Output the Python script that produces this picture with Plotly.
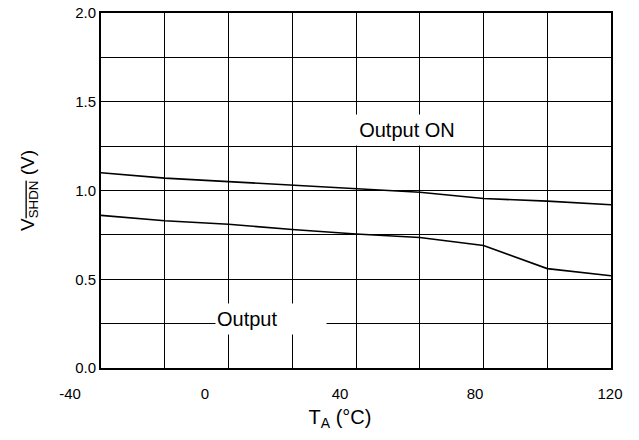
import plotly.graph_objects as go

# Ambient temperature grid (°C) at which the thresholds were measured
temp_c = [-40, -20, 0, 20, 40, 60, 80, 100, 120]

# Shutdown-pin threshold voltages (V)
v_on = [1.10, 1.07, 1.05, 1.03, 1.01, 0.99, 0.955, 0.94, 0.92]
v_off = [0.86, 0.83, 0.81, 0.78, 0.755, 0.735, 0.69, 0.56, 0.52]

# Temperature labels printed under the chart
temp_labels = [-40, 0, 40, 80, 120]
temp_text = ["-40", "0", "40", "80", "120"]
volt_ticks = [0.0, 0.5, 1.0, 1.5, 2.0]

FONT = "Arial, Liberation Sans, sans-serif"

fig = go.Figure()

for series in (v_on, v_off):
    fig.add_trace(go.Scatter(
        x=temp_c, y=series, mode="lines",
        line=dict(color="black", width=1.6),
        showlegend=False, hoverinfo="skip",
    ))

# Carrier trace for the labelled temperature scale (own hidden y axis)
fig.add_trace(go.Scatter(
    x=[temp_labels[0], temp_labels[-1]], y=[None, None],
    xaxis="x2", yaxis="y2", mode="lines", showlegend=False,
    hoverinfo="skip",
))

fig.update_layout(
    width=639, height=440,
    margin=dict(l=70, r=28, t=13, b=72, autoexpand=False),
    paper_bgcolor="white", plot_bgcolor="rgba(0,0,0,0)",
    font=dict(family=FONT, color="black", size=15),
    xaxis=dict(
        domain=[31 / 541, 1.0],
        range=[-40, 120], dtick=20, tick0=-40,
        showticklabels=False, ticks="",
        showgrid=True, gridcolor="black", gridwidth=1,
        showline=True, linecolor="black", linewidth=2, mirror=True,
        zeroline=False,
    ),
    xaxis2=dict(
        domain=[0.0, 540 / 541],
        anchor="y2",
        range=[-40, 120],
        tickvals=temp_labels, ticktext=temp_text,
        ticks="outside", ticklen=12, tickcolor="rgba(0,0,0,0)",
        showgrid=False, showline=False, zeroline=False,
        tickfont=dict(size=15),
        title=dict(text="T<sub>A</sub> (°C)", font=dict(size=20), standoff=8),
    ),
    yaxis2=dict(
        domain=[0, 1], anchor="x2", range=[0, 2.0], visible=False,
    ),
    yaxis=dict(
        anchor="x",
        range=[0, 2.0],
        tickvals=volt_ticks, tickformat=".1f",
        ticks="", ticklabelstandoff=0,
        showgrid=True, gridcolor="black", gridwidth=1,
        minor=dict(dtick=0.25, showgrid=True, gridcolor="black", gridwidth=1),
        showline=True, linecolor="black", linewidth=2, mirror=True,
        zeroline=False,
        tickfont=dict(size=15),
        title=dict(
            text='V<sub><span style="text-decoration:overline">SHDN</span></sub> (V)',
            font=dict(size=19), standoff=35,
        ),
    ),
    annotations=[
        dict(x=56, y=1.34, xref="x", yref="y", text="Output ON",
             showarrow=False, font=dict(size=20), bgcolor="white",
             width=100, height=28, borderpad=1),
        dict(x=13.3, y=0.277, xref="x", yref="y", text="Output",
             showarrow=False, font=dict(size=20), bgcolor="white",
             width=108, height=28, borderpad=1, align="left"),
    ],
)

fig.write_html("out.html")
